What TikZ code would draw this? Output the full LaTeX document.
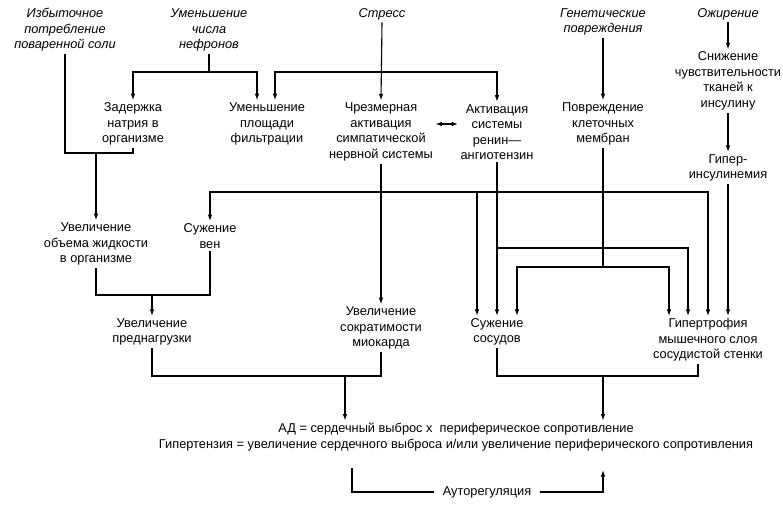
\documentclass[tikz,border=0pt]{standalone}
\usepackage{fontspec}
\setmainfont{Liberation Sans}
\usetikzlibrary{arrows.meta}

\begin{document}
\begin{tikzpicture}[x=1pt,y=-1pt,line width=1.1pt,
  >={Latex[length=6.5pt,width=4.5pt]},
  box/.style={align=center,inner sep=2pt,font=\fontsize{12.8}{15.5}\selectfont},
  cause/.style={box,font=\fontsize{12.8}{15.5}\selectfont\itshape}]
\useasboundingbox (0,0) rectangle (783,508);
% causes
\node[cause] (salt) at (65,30) {Избыточное\\потребление\\поваренной соли};
\node[cause] (nef) at (209,30) {Уменьшение\\числа\\нефронов};
\node[cause] (stress) at (382,14) {Стресс};
\node[cause] (gen) at (603,22) {Генетические\\повреждения};
\node[cause] (obes) at (728,14) {Ожирение};
% second row
\node[box] (zad) at (133,124) {Задержка\\натрия в\\организме};
\node[box] (plo) at (267,124) {Уменьшение\\площади\\фильтрации};
\node[box] (chr) at (381,132) {Чрезмерная\\активация\\симпатической\\нервной системы};
\node[box] (akt) at (497,132) {Активация\\системы\\ренин—\\ангиотензин};
\node[box] (pov) at (603,124) {Повреждение\\клеточных\\мембран};
\node[box] (sni) at (728,81) {Снижение\\чувствительности\\тканей к\\инсулину};
\node[box] (gip) at (728,168) {Гипер-\\инсулинемия};
% third row
\node[box] (obem) at (96,244) {Увеличение\\объема жидкости\\в организме};
\node[box] (ven) at (210,236) {Сужение\\вен};
% fourth row
\node[box] (pre) at (152,332) {Увеличение\\преднагрузки};
\node[box] (sok) at (381,328) {Увеличение\\сократимости\\миокарда};
\node[box] (suz) at (497,332) {Сужение\\сосудов};
\node[box] (hyp) at (708,340) {Гипертрофия\\мышечного слоя\\сосудистой стенки};
% result
\node[box] (eq) at (456,437) {АД = сердечный выброс х\ \ периферическое сопротивление\\Гипертензия = увеличение сердечного выброса и/или увеличение периферического сопротивления};
\node[box,inner xsep=8pt] (auto) at (487,492) {Ауторегуляция};

% bus levels and arrow ends
\coordinate (b1) at (0,153);
\coordinate (b2) at (0,72);
\coordinate (b3) at (0,192);
\coordinate (b4) at (0,248);
\coordinate (b5) at (0,267);
\coordinate (b6) at (0,295);
\coordinate (b7) at (0,376);
\coordinate (plo1) at ([xshift=-10pt]plo.north);
\coordinate (plo2) at ([xshift=8pt]plo.north);
\coordinate (suz1) at ([xshift=-20pt]suz.north);
\coordinate (suz3) at ([xshift=20pt]suz.north);
\coordinate (hyp2) at ([xshift=-20pt]hyp.north);
\coordinate (hyp3) at ([xshift=-39pt]hyp.north);
\coordinate (hyp4) at ([xshift=-10pt]hyp.south);
\coordinate (eq1) at ([xshift=-111pt]eq.north);
\coordinate (eq2) at ([xshift=147pt]eq.north);
\coordinate (al) at (352,468);
\coordinate (ar) at (603,470);

% salt, sodium
\draw (salt.south) |- (zad.south |- b1) -- (zad.south);
\draw[->] (obem.north |- b1) -- (obem.north);
% nephrons
\draw (nef.south) -- (nef.south |- b2);
\draw[<->] (zad.north) |- (plo1 |- b2) -- (plo1);
% stress
\draw[->] (stress.south) -- (chr.north);
\draw[<->] (plo2) |- (akt.north |- b2) -- (akt.north);
\draw[<->] (chr.east |- zad) -- (akt.west |- zad);
% genetics, obesity
\draw[->] (gen.south) -- (pov.north);
\draw[->] (obes.south) -- (sni.north);
\draw[->] (sni.south) -- (gip.north);
% sympathetic
\draw[->] (chr.south) -- (sok.north);
\draw[<->] (ven.north) |- (hyp.north |- b3) -- (hyp.north);
\draw[->] (suz1 |- b3) -- (suz1);
% renin-angiotensin
\draw[->] (akt.south) -- (suz.north);
\draw[->] (akt.south |- b4) -| (hyp2);
% membranes
\draw (pov.south) -- (pov.south |- b5);
\draw[<->] (suz3) |- (hyp3 |- b5) -- (hyp3);
% insulin
\draw[->] (gip.south) -- (gip.south |- hyp.north);
% preload
\draw (obem.south) |- (ven.south |- b6) -- (ven.south);
\draw[->] (pre.north |- b6) -- (pre.north);
% output and resistance
\draw (pre.south) |- (sok.south |- b7) -- (sok.south);
\draw[->] (eq1 |- b7) -- (eq1);
\draw (suz.south) |- (hyp4 |- b7) -- (hyp4);
\draw[->] (eq2 |- b7) -- (eq2);
% autoregulation
\draw (al) |- (auto.west);
\draw[->] (auto.east) -| (ar);
\end{tikzpicture}
\end{document}
